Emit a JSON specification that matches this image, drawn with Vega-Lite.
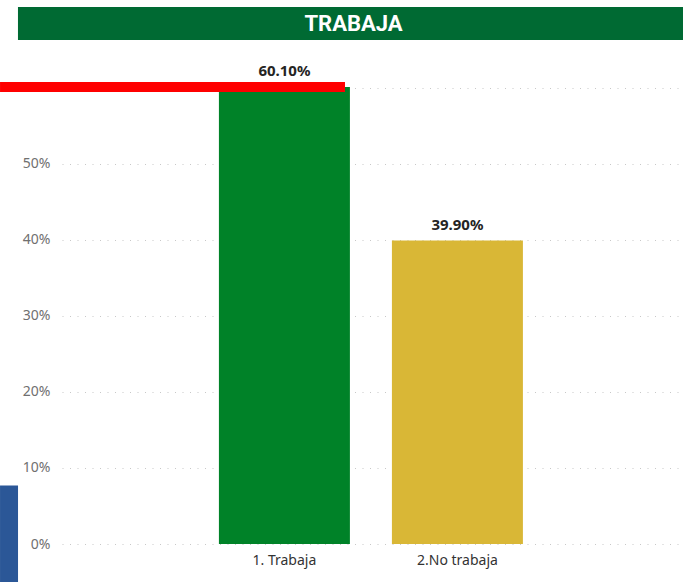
{
  "$schema": "https://vega.github.io/schema/vega-lite/v6.json",
  "padding": {"left": -5, "top": 7, "right": 0, "bottom": 0},
  "background": "white",
  "spacing": 24,
  "config": {"view": {"stroke": null}, "font": "Noto Sans"},
  "datasets": {
    "bars": [
      {"categoria": "1. Trabaja", "porcentaje": 0.601},
      {"categoria": "2.No trabaja", "porcentaje": 0.399}
    ],
    "titulo": [{"titulo": "TRABAJA"}],
    "decor": [{"elemento": "marco"}]
  },
  "vconcat": [
    {
      "width": 621,
      "height": 33,
      "data": {"name": "titulo"},
      "layer": [
        {
          "mark": {"type": "rect", "color": "#006A33"},
          "encoding": {
            "x": {"datum": -0.0709, "type": "quantitative", "scale": {"domain": [0, 1], "nice": false, "zero": false}, "axis": null},
            "x2": {"datum": 1},
            "y": {"datum": 0, "type": "quantitative", "scale": {"domain": [0, 1], "nice": false}, "axis": null},
            "y2": {"datum": 1}
          }
        },
        {
          "mark": {"type": "text", "color": "white", "fontWeight": "bold", "fontSize": 22, "font": "Roboto", "baseline": "middle", "align": "center"},
          "encoding": {
            "text": {"field": "titulo"},
            "x": {"datum": 0.4694, "type": "quantitative"},
            "y": {"datum": 0.5, "type": "quantitative"}
          }
        }
      ]
    },
    {
      "width": 621,
      "height": 457,
      "resolve": {"scale": {"x": "independent"}},
      "layer": [
        {
          "data": {"name": "bars"},
          "encoding": {
            "x": {"field": "categoria", "type": "nominal", "sort": null,
              "scale": {"paddingInner": 0.2428, "paddingOuter": 0.9162, "align": 0.495},
              "axis": {"title": null, "labelAngle": 0, "ticks": false, "domain": false, "labelFontSize": 14, "labelColor": "#333333", "labelPadding": 9, "labelFont": "Noto Sans"}},
            "y": {"field": "porcentaje", "type": "quantitative",
              "scale": {"domain": [0, 0.601], "nice": false, "zero": true},
              "axis": {"title": null, "values": [0, 0.1, 0.2, 0.3, 0.4, 0.5, 0.6], "format": ".0%", "ticks": false, "domain": false,
                "labelFontSize": 14, "labelColor": "#707070", "labelPadding": 12, "labelFont": "Noto Sans",
                "gridColor": "#C8C8C8", "gridDash": [1, 6.5], "gridWidth": 1}}
          },
          "layer": [
            {
              "mark": {"type": "bar"},
              "encoding": {
                "color": {"field": "categoria", "type": "nominal", "legend": null,
                  "scale": {"domain": ["1. Trabaja", "2.No trabaja"], "range": ["#008228", "#D9B736"]}}
              }
            },
            {
              "mark": {"type": "text", "baseline": "alphabetic", "dy": -11, "fontWeight": "bold", "fontSize": 15, "color": "#252423", "font": "Noto Sans"},
              "encoding": {"text": {"field": "porcentaje", "type": "quantitative", "format": ".2%"}}
            }
          ]
        },
        {
          "data": {"name": "decor"},
          "mark": {"type": "rule", "color": "#FF0000", "strokeWidth": 10},
          "encoding": {
            "x": {"datum": -0.0998, "type": "quantitative", "scale": {"domain": [0, 1], "nice": false, "zero": false}, "axis": null},
            "x2": {"datum": 0.4557},
            "y": {"datum": 0.601, "type": "quantitative", "scale": {"domain": [0, 0.601], "nice": false}}
          }
        },
        {
          "data": {"name": "decor"},
          "mark": {"type": "rule", "color": "#2B5797", "strokeWidth": 18},
          "encoding": {
            "x": {"datum": -0.0853, "type": "quantitative", "scale": {"domain": [0, 1], "nice": false, "zero": false}, "axis": null},
            "y": {"datum": 0.077, "type": "quantitative", "scale": {"domain": [0, 0.601], "nice": false}},
            "y2": {"datum": -0.06}
          }
        }
      ]
    }
  ]
}
